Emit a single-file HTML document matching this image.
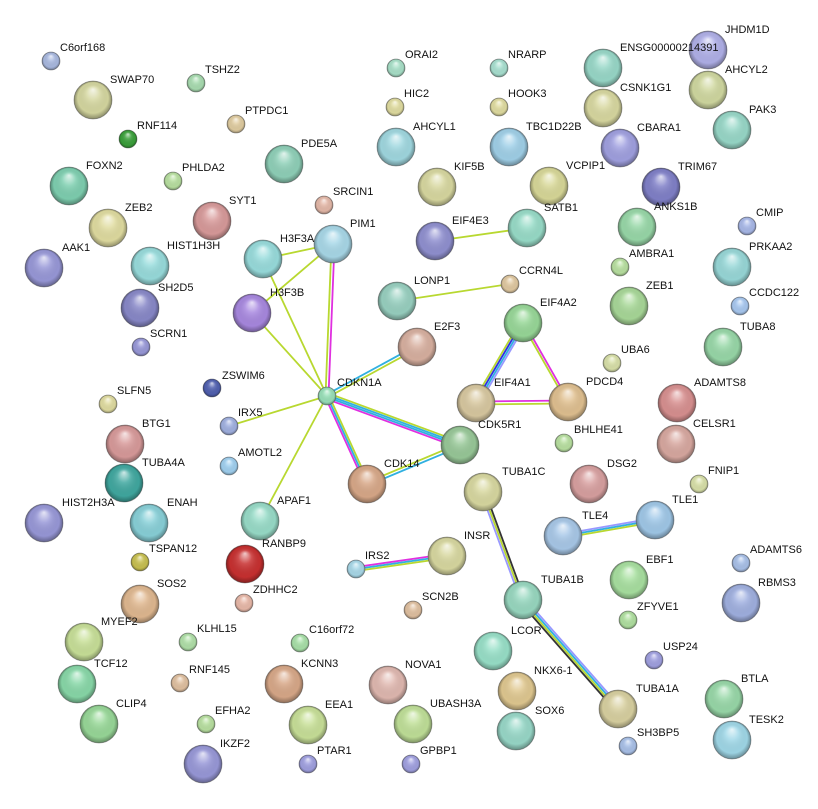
<!DOCTYPE html>
<html><head><meta charset="utf-8"><style>
html,body{margin:0;padding:0;background:#fff;}
svg{display:block;}
text{font-family:"Liberation Sans",sans-serif;font-size:11px;fill:#111;}
</style></head><body>
<svg width="818" height="809" viewBox="0 0 818 809" xmlns="http://www.w3.org/2000/svg">
<defs>
<radialGradient id="s" cx="50%" cy="50%" r="50%" fx="50%" fy="22%">
<stop offset="0" stop-color="#fff" stop-opacity="0.75"/>
<stop offset="0.35" stop-color="#fff" stop-opacity="0.15"/>
<stop offset="0.8" stop-color="#000" stop-opacity="0.03"/>
<stop offset="1" stop-color="#000" stop-opacity="0.35"/>
</radialGradient>
</defs>
<g stroke-width="1.8" fill="none">
<line x1="334.5" y1="244" x2="328.5" y2="396" stroke="#e030e0"/>
<line x1="331.5" y1="244" x2="325.5" y2="396" stroke="#b8d830"/>
<line x1="263" y1="259" x2="333" y2="244" stroke="#b8d830"/>
<line x1="252" y1="313" x2="333" y2="244" stroke="#b8d830"/>
<line x1="263" y1="259" x2="327" y2="396" stroke="#b8d830"/>
<line x1="252" y1="313" x2="327" y2="396" stroke="#b8d830"/>
<line x1="229" y1="426" x2="327" y2="396" stroke="#b8d830"/>
<line x1="260" y1="521" x2="327" y2="396" stroke="#b8d830"/>
<line x1="326.3" y1="394.7" x2="416.3" y2="345.7" stroke="#30b0e0"/>
<line x1="327.7" y1="397.3" x2="417.7" y2="348.3" stroke="#b8d830"/>
<line x1="328" y1="393.2" x2="461" y2="442.2" stroke="#b8d830"/>
<line x1="327.4" y1="395.1" x2="460.4" y2="444.1" stroke="#30b0e0"/>
<line x1="326.6" y1="396.9" x2="459.6" y2="445.9" stroke="#30b0e0"/>
<line x1="326" y1="398.8" x2="459" y2="447.8" stroke="#e030e0"/>
<line x1="325.2" y1="396.8" x2="365.2" y2="484.8" stroke="#e030e0"/>
<line x1="327" y1="396" x2="367" y2="484" stroke="#30b0e0"/>
<line x1="328.8" y1="395.2" x2="368.8" y2="483.2" stroke="#b8d830"/>
<line x1="366.4" y1="482.6" x2="459.4" y2="443.6" stroke="#b8d830"/>
<line x1="367.6" y1="485.4" x2="460.6" y2="446.4" stroke="#30b0e0"/>
<line x1="435" y1="241" x2="527" y2="228" stroke="#b8d830"/>
<line x1="397" y1="301" x2="510" y2="284" stroke="#b8d830"/>
<line x1="520.4" y1="321.5" x2="473.4" y2="401.5" stroke="#b8d830"/>
<line x1="522.1" y1="322.5" x2="475.1" y2="402.5" stroke="#3030e0"/>
<line x1="523.9" y1="323.5" x2="476.9" y2="403.5" stroke="#30b0e0"/>
<line x1="525.6" y1="324.5" x2="478.6" y2="404.5" stroke="#9898ff"/>
<line x1="524" y1="322.5" x2="569" y2="401.5" stroke="#e030e0"/>
<line x1="522" y1="323.5" x2="567" y2="402.5" stroke="#b8d830"/>
<line x1="476" y1="401.5" x2="568" y2="400.5" stroke="#e030e0"/>
<line x1="476" y1="404.5" x2="568" y2="403.5" stroke="#b8d830"/>
<line x1="481.1" y1="492.7" x2="521.1" y2="601.7" stroke="#9898ff"/>
<line x1="483" y1="492" x2="523" y2="601" stroke="#b8d830"/>
<line x1="484.9" y1="491.3" x2="524.9" y2="600.3" stroke="#333"/>
<line x1="525.2" y1="599" x2="620.2" y2="707" stroke="#9898ff"/>
<line x1="523.7" y1="600.3" x2="618.7" y2="708.3" stroke="#30b0e0"/>
<line x1="522.3" y1="601.7" x2="617.3" y2="709.7" stroke="#b8d830"/>
<line x1="520.8" y1="603" x2="615.8" y2="711" stroke="#333"/>
<line x1="563" y1="534" x2="655" y2="518" stroke="#9898ff"/>
<line x1="563" y1="536" x2="655" y2="520" stroke="#30b0e0"/>
<line x1="563" y1="538" x2="655" y2="522" stroke="#b8d830"/>
<line x1="356" y1="567" x2="447" y2="554" stroke="#e030e0"/>
<line x1="356" y1="569" x2="447" y2="556" stroke="#30b0e0"/>
<line x1="356" y1="571" x2="447" y2="558" stroke="#b8d830"/>
</g>
<g stroke="#555" stroke-opacity="0.55" stroke-width="0.8">
<circle cx="51" cy="61" r="9" fill="#a9b9e0"/><circle cx="93" cy="100" r="19" fill="#d5d7a0"/><circle cx="196" cy="83" r="9" fill="#a8dcb0"/><circle cx="128" cy="139" r="9" fill="#3aa03a"/><circle cx="236" cy="124" r="9" fill="#e0cca0"/><circle cx="284" cy="164" r="19" fill="#8fd0b8"/><circle cx="69" cy="186" r="19" fill="#7ecfb0"/><circle cx="173" cy="181" r="9" fill="#b8e0a0"/><circle cx="212" cy="221" r="19" fill="#d89a9a"/><circle cx="324" cy="205" r="9" fill="#e4b8a8"/><circle cx="108" cy="228" r="19" fill="#e0dca0"/><circle cx="44" cy="268" r="19" fill="#9898d8"/><circle cx="150" cy="266" r="19" fill="#98dcdc"/><circle cx="263" cy="259" r="19" fill="#98dcdc"/><circle cx="333" cy="244" r="19" fill="#a8d8e8"/><circle cx="252" cy="313" r="19" fill="#a888e0"/><circle cx="140" cy="308" r="19" fill="#8888c8"/><circle cx="141" cy="347" r="9" fill="#9898d8"/><circle cx="212" cy="388" r="9" fill="#5060b0"/><circle cx="108" cy="404" r="9" fill="#e0dca0"/><circle cx="327" cy="396" r="9" fill="#98e0b8"/><circle cx="229" cy="426" r="9" fill="#a0b0e0"/><circle cx="125" cy="444" r="19" fill="#d89a9a"/><circle cx="229" cy="466" r="9" fill="#a0d0f0"/><circle cx="124" cy="483" r="19" fill="#40a8a0"/><circle cx="44" cy="523" r="19" fill="#9898d8"/><circle cx="149" cy="523" r="19" fill="#88d0d8"/><circle cx="260" cy="521" r="19" fill="#98dcc8"/><circle cx="245" cy="564" r="19" fill="#c83030"/><circle cx="140" cy="562" r="9" fill="#c8c050"/><circle cx="140" cy="604" r="19" fill="#e0b890"/><circle cx="244" cy="603" r="9" fill="#e8b8a8"/><circle cx="84" cy="642" r="19" fill="#c8e098"/><circle cx="188" cy="642" r="9" fill="#b0e0a8"/><circle cx="77" cy="684" r="19" fill="#88d8a8"/><circle cx="180" cy="683" r="9" fill="#e0c0a0"/><circle cx="300" cy="643" r="9" fill="#a8e0a8"/><circle cx="284" cy="684" r="19" fill="#d8a888"/><circle cx="99" cy="724" r="19" fill="#98d898"/><circle cx="206" cy="724" r="9" fill="#b8e0a0"/><circle cx="308" cy="725" r="19" fill="#c8e098"/><circle cx="203" cy="764" r="19" fill="#9898d8"/><circle cx="308" cy="764" r="9" fill="#a0a0e0"/><circle cx="388" cy="685" r="19" fill="#e0b8b0"/><circle cx="413" cy="724" r="19" fill="#c0e098"/><circle cx="411" cy="764" r="9" fill="#a0a0e0"/><circle cx="413" cy="610" r="9" fill="#e0c0a0"/><circle cx="356" cy="569" r="9" fill="#a8d8e8"/><circle cx="447" cy="556" r="19" fill="#d8d8a0"/><circle cx="367" cy="484" r="19" fill="#d8a888"/><circle cx="417" cy="347" r="19" fill="#d8b0a0"/><circle cx="397" cy="301" r="19" fill="#98d0c0"/><circle cx="510" cy="284" r="9" fill="#e0c8a0"/><circle cx="435" cy="241" r="19" fill="#9090d0"/><circle cx="527" cy="228" r="19" fill="#98dcc8"/><circle cx="437" cy="187" r="19" fill="#d8d8a0"/><circle cx="549" cy="186" r="19" fill="#d8d898"/><circle cx="396" cy="147" r="19" fill="#a0d8e0"/><circle cx="509" cy="147" r="19" fill="#a0d0e8"/><circle cx="395" cy="107" r="9" fill="#e0dca0"/><circle cx="499" cy="107" r="9" fill="#e0dca0"/><circle cx="396" cy="68" r="9" fill="#a8e0c8"/><circle cx="499" cy="68" r="9" fill="#a8e0d0"/><circle cx="603" cy="68" r="19" fill="#98d8c8"/><circle cx="708" cy="50" r="19" fill="#b0b0e8"/><circle cx="603" cy="108" r="19" fill="#d8d8a0"/><circle cx="708" cy="90" r="19" fill="#d0d8a0"/><circle cx="620" cy="148" r="19" fill="#a0a0e0"/><circle cx="732" cy="130" r="19" fill="#98d8c8"/><circle cx="661" cy="187" r="19" fill="#8080c8"/><circle cx="637" cy="227" r="19" fill="#98d8a8"/><circle cx="747" cy="226" r="9" fill="#a8b8e8"/><circle cx="732" cy="267" r="19" fill="#98d8d8"/><circle cx="620" cy="267" r="9" fill="#b8e0a0"/><circle cx="629" cy="306" r="19" fill="#a8d898"/><circle cx="740" cy="306" r="9" fill="#a8c8f0"/><circle cx="523" cy="323" r="19" fill="#98d898"/><circle cx="723" cy="347" r="19" fill="#98d8a8"/><circle cx="612" cy="363" r="9" fill="#d8e0a8"/><circle cx="568" cy="402" r="19" fill="#e0c090"/><circle cx="476" cy="403" r="19" fill="#d8c8a0"/><circle cx="677" cy="403" r="19" fill="#d89090"/><circle cx="460" cy="445" r="19" fill="#98c898"/><circle cx="564" cy="443" r="9" fill="#b8e0a0"/><circle cx="676" cy="444" r="19" fill="#d8a8a0"/><circle cx="483" cy="492" r="19" fill="#d8d8a0"/><circle cx="589" cy="484" r="19" fill="#d8a0a0"/><circle cx="699" cy="484" r="9" fill="#d8e0a8"/><circle cx="655" cy="520" r="19" fill="#a0c8e8"/><circle cx="563" cy="536" r="19" fill="#a8c8e8"/><circle cx="629" cy="580" r="19" fill="#a8e0a0"/><circle cx="628" cy="620" r="9" fill="#b0e0a0"/><circle cx="741" cy="563" r="9" fill="#a8c0e8"/><circle cx="741" cy="603" r="19" fill="#a0b0e0"/><circle cx="523" cy="600" r="19" fill="#98d8c0"/><circle cx="493" cy="651" r="19" fill="#98e0c8"/><circle cx="654" cy="660" r="9" fill="#a0a0e0"/><circle cx="517" cy="691" r="19" fill="#e0c890"/><circle cx="724" cy="699" r="19" fill="#98d8a8"/><circle cx="618" cy="709" r="19" fill="#d8d0a0"/><circle cx="516" cy="731" r="19" fill="#98d8c8"/><circle cx="732" cy="740" r="19" fill="#a0d8e8"/><circle cx="628" cy="746" r="9" fill="#a8c0e8"/>
</g>
<g fill="url(#s)">
<circle cx="51" cy="61" r="9"/><circle cx="93" cy="100" r="19"/><circle cx="196" cy="83" r="9"/><circle cx="128" cy="139" r="9"/><circle cx="236" cy="124" r="9"/><circle cx="284" cy="164" r="19"/><circle cx="69" cy="186" r="19"/><circle cx="173" cy="181" r="9"/><circle cx="212" cy="221" r="19"/><circle cx="324" cy="205" r="9"/><circle cx="108" cy="228" r="19"/><circle cx="44" cy="268" r="19"/><circle cx="150" cy="266" r="19"/><circle cx="263" cy="259" r="19"/><circle cx="333" cy="244" r="19"/><circle cx="252" cy="313" r="19"/><circle cx="140" cy="308" r="19"/><circle cx="141" cy="347" r="9"/><circle cx="212" cy="388" r="9"/><circle cx="108" cy="404" r="9"/><circle cx="327" cy="396" r="9"/><circle cx="229" cy="426" r="9"/><circle cx="125" cy="444" r="19"/><circle cx="229" cy="466" r="9"/><circle cx="124" cy="483" r="19"/><circle cx="44" cy="523" r="19"/><circle cx="149" cy="523" r="19"/><circle cx="260" cy="521" r="19"/><circle cx="245" cy="564" r="19"/><circle cx="140" cy="562" r="9"/><circle cx="140" cy="604" r="19"/><circle cx="244" cy="603" r="9"/><circle cx="84" cy="642" r="19"/><circle cx="188" cy="642" r="9"/><circle cx="77" cy="684" r="19"/><circle cx="180" cy="683" r="9"/><circle cx="300" cy="643" r="9"/><circle cx="284" cy="684" r="19"/><circle cx="99" cy="724" r="19"/><circle cx="206" cy="724" r="9"/><circle cx="308" cy="725" r="19"/><circle cx="203" cy="764" r="19"/><circle cx="308" cy="764" r="9"/><circle cx="388" cy="685" r="19"/><circle cx="413" cy="724" r="19"/><circle cx="411" cy="764" r="9"/><circle cx="413" cy="610" r="9"/><circle cx="356" cy="569" r="9"/><circle cx="447" cy="556" r="19"/><circle cx="367" cy="484" r="19"/><circle cx="417" cy="347" r="19"/><circle cx="397" cy="301" r="19"/><circle cx="510" cy="284" r="9"/><circle cx="435" cy="241" r="19"/><circle cx="527" cy="228" r="19"/><circle cx="437" cy="187" r="19"/><circle cx="549" cy="186" r="19"/><circle cx="396" cy="147" r="19"/><circle cx="509" cy="147" r="19"/><circle cx="395" cy="107" r="9"/><circle cx="499" cy="107" r="9"/><circle cx="396" cy="68" r="9"/><circle cx="499" cy="68" r="9"/><circle cx="603" cy="68" r="19"/><circle cx="708" cy="50" r="19"/><circle cx="603" cy="108" r="19"/><circle cx="708" cy="90" r="19"/><circle cx="620" cy="148" r="19"/><circle cx="732" cy="130" r="19"/><circle cx="661" cy="187" r="19"/><circle cx="637" cy="227" r="19"/><circle cx="747" cy="226" r="9"/><circle cx="732" cy="267" r="19"/><circle cx="620" cy="267" r="9"/><circle cx="629" cy="306" r="19"/><circle cx="740" cy="306" r="9"/><circle cx="523" cy="323" r="19"/><circle cx="723" cy="347" r="19"/><circle cx="612" cy="363" r="9"/><circle cx="568" cy="402" r="19"/><circle cx="476" cy="403" r="19"/><circle cx="677" cy="403" r="19"/><circle cx="460" cy="445" r="19"/><circle cx="564" cy="443" r="9"/><circle cx="676" cy="444" r="19"/><circle cx="483" cy="492" r="19"/><circle cx="589" cy="484" r="19"/><circle cx="699" cy="484" r="9"/><circle cx="655" cy="520" r="19"/><circle cx="563" cy="536" r="19"/><circle cx="629" cy="580" r="19"/><circle cx="628" cy="620" r="9"/><circle cx="741" cy="563" r="9"/><circle cx="741" cy="603" r="19"/><circle cx="523" cy="600" r="19"/><circle cx="493" cy="651" r="19"/><circle cx="654" cy="660" r="9"/><circle cx="517" cy="691" r="19"/><circle cx="724" cy="699" r="19"/><circle cx="618" cy="709" r="19"/><circle cx="516" cy="731" r="19"/><circle cx="732" cy="740" r="19"/><circle cx="628" cy="746" r="9"/>
</g>
<g>
<text x="60" y="51">C6orf168</text><text x="110" y="83">SWAP70</text><text x="205" y="73">TSHZ2</text><text x="137" y="129">RNF114</text><text x="245" y="114">PTPDC1</text><text x="301" y="147">PDE5A</text><text x="86" y="169">FOXN2</text><text x="182" y="171">PHLDA2</text><text x="229" y="204">SYT1</text><text x="333" y="195">SRCIN1</text><text x="125" y="211">ZEB2</text><text x="62" y="251">AAK1</text><text x="167" y="249">HIST1H3H</text><text x="280" y="242">H3F3A</text><text x="350" y="227">PIM1</text><text x="270" y="296">H3F3B</text><text x="158" y="291">SH2D5</text><text x="150" y="337">SCRN1</text><text x="222" y="379">ZSWIM6</text><text x="117" y="394">SLFN5</text><text x="337" y="386">CDKN1A</text><text x="238" y="416">IRX5</text><text x="142" y="427">BTG1</text><text x="238" y="456">AMOTL2</text><text x="142" y="466">TUBA4A</text><text x="62" y="506">HIST2H3A</text><text x="167" y="506">ENAH</text><text x="277" y="504">APAF1</text><text x="262" y="547">RANBP9</text><text x="149" y="552">TSPAN12</text><text x="157" y="587">SOS2</text><text x="253" y="593">ZDHHC2</text><text x="101" y="625">MYEF2</text><text x="197" y="632">KLHL15</text><text x="94" y="667">TCF12</text><text x="189" y="673">RNF145</text><text x="309" y="633">C16orf72</text><text x="301" y="667">KCNN3</text><text x="116" y="707">CLIP4</text><text x="215" y="714">EFHA2</text><text x="325" y="708">EEA1</text><text x="220" y="747">IKZF2</text><text x="317" y="754">PTAR1</text><text x="405" y="668">NOVA1</text><text x="430" y="707">UBASH3A</text><text x="420" y="754">GPBP1</text><text x="422" y="600">SCN2B</text><text x="365" y="559">IRS2</text><text x="464" y="539">INSR</text><text x="384" y="467">CDK14</text><text x="434" y="330">E2F3</text><text x="414" y="284">LONP1</text><text x="519" y="274">CCRN4L</text><text x="452" y="224">EIF4E3</text><text x="544" y="211">SATB1</text><text x="454" y="170">KIF5B</text><text x="566" y="169">VCPIP1</text><text x="413" y="130">AHCYL1</text><text x="526" y="130">TBC1D22B</text><text x="404" y="97">HIC2</text><text x="508" y="97">HOOK3</text><text x="405" y="58">ORAI2</text><text x="508" y="58">NRARP</text><text x="620" y="51">ENSG00000214391</text><text x="725" y="33">JHDM1D</text><text x="620" y="91">CSNK1G1</text><text x="725" y="73">AHCYL2</text><text x="637" y="131">CBARA1</text><text x="749" y="113">PAK3</text><text x="678" y="170">TRIM67</text><text x="654" y="210">ANKS1B</text><text x="756" y="216">CMIP</text><text x="749" y="250">PRKAA2</text><text x="629" y="257">AMBRA1</text><text x="646" y="289">ZEB1</text><text x="749" y="296">CCDC122</text><text x="540" y="306">EIF4A2</text><text x="740" y="330">TUBA8</text><text x="621" y="353">UBA6</text><text x="586" y="385">PDCD4</text><text x="494" y="386">EIF4A1</text><text x="694" y="386">ADAMTS8</text><text x="478" y="428">CDK5R1</text><text x="574" y="433">BHLHE41</text><text x="693" y="427">CELSR1</text><text x="502" y="475">TUBA1C</text><text x="607" y="467">DSG2</text><text x="708" y="474">FNIP1</text><text x="672" y="503">TLE1</text><text x="582" y="519">TLE4</text><text x="646" y="563">EBF1</text><text x="637" y="610">ZFYVE1</text><text x="750" y="553">ADAMTS6</text><text x="758" y="586">RBMS3</text><text x="541" y="583">TUBA1B</text><text x="511" y="634">LCOR</text><text x="663" y="650">USP24</text><text x="534" y="674">NKX6-1</text><text x="741" y="682">BTLA</text><text x="636" y="692">TUBA1A</text><text x="535" y="714">SOX6</text><text x="749" y="723">TESK2</text><text x="637" y="736">SH3BP5</text>
</g>
</svg>
</body></html>
